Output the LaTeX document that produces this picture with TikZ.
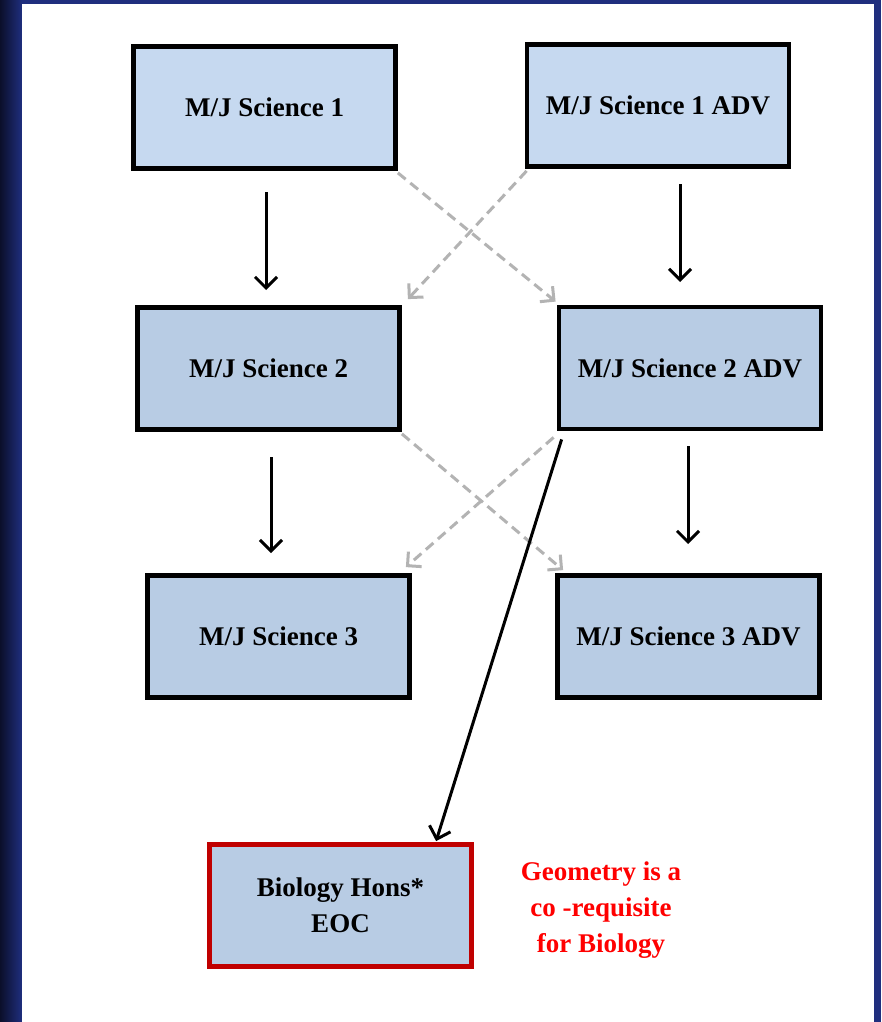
\documentclass[tikz,border=0pt]{standalone}
\usepackage{fontspec}
\setmainfont{Liberation Serif}
\usetikzlibrary{arrows.meta}
\definecolor{boxA}{HTML}{C6D9F0}
\definecolor{boxB}{HTML}{B8CCE4}
\definecolor{dgray}{HTML}{B3B3B3}
\definecolor{redb}{HTML}{C00000}
\definecolor{bgblue}{HTML}{1F2E7E}
\definecolor{bgdark}{HTML}{0B0F2A}
\tikzset{
  course/.style={draw=black, line width=4.8pt, fill=boxB, minimum width=262pt, minimum height=122pt, inner sep=0pt, font=\fontsize{27}{36}\selectfont\bfseries, align=center},
  solidarr/.style={draw=black, line width=3pt, -{Straight Barb[length=11pt,width=22pt,line width=3pt]}},
  dasharr/.style={draw=dgray, line width=3pt, dash pattern=on 10pt off 6pt, -{Straight Barb[length=10pt,width=20pt,line width=3pt]}},
}
\begin{document}
\begin{tikzpicture}[x=1pt,y=-1pt]
\useasboundingbox (0,0) rectangle (881,1022);
\fill[bgblue] (0,0) rectangle (881,1022);
\shade[left color=bgdark, right color=bgblue] (0,0) rectangle (22,1022);
\fill[white] (22,4) rectangle (874,1022);

\node[course, fill=boxA] (s1) at (264.5,107.5) {M/J Science 1};
\node[course, fill=boxA] (s1a) at (658,105.5) {M/J Science 1 ADV};
\node[course] (s2) at (268.5,368.5) {M/J Science 2};
\node[course] (s2a) at (690,368) {M/J Science 2 ADV};
\node[course] (s3) at (278.5,636.5) {M/J Science 3};
\node[course] (s3a) at (688.5,636.5) {M/J Science 3 ADV};
\node[course, draw=redb] (bio) at (340.5,905.5) {Biology Hons*\\EOC};
\node[text=red, font=\fontsize{27}{36}\selectfont\bfseries, align=center] (note) at (601,910) {Geometry is a\\co -requisite\\for Biology};

\coordinate (a1s) at (266,192); \coordinate (a1e) at (266,290);
\coordinate (a2s) at (680,184); \coordinate (a2e) at (680,282);
\coordinate (a3s) at (271,457); \coordinate (a3e) at (271,553);
\coordinate (a4s) at (688,446); \coordinate (a4e) at (688,544);
\draw[solidarr] (a1s) -- (a1e);
\draw[solidarr] (a2s) -- (a2e);
\draw[solidarr] (a3s) -- (a3e);
\draw[solidarr] (a4s) -- (a4e);

\draw[dasharr] ([yshift=-2pt]s1.south east) -- ([xshift=-1pt,yshift=3pt]s2a.north west);
\draw[dasharr] ([xshift=2pt,yshift=-2pt]s1a.south west) -- ([xshift=6pt,yshift=6pt]s2.north east);
\draw[dasharr] ([yshift=-2pt]s2.south east) -- ([xshift=8pt,yshift=3pt]s3a.north west);
\draw[dasharr] ([xshift=-3pt,yshift=-6pt]s2a.south west) -- ([xshift=-6pt,yshift=6pt]s3.north east);

\draw[solidarr] ([xshift=5pt,yshift=-8pt]s2a.south west) -- ([xshift=229pt,yshift=1pt]bio.north west);
\end{tikzpicture}
\end{document}
